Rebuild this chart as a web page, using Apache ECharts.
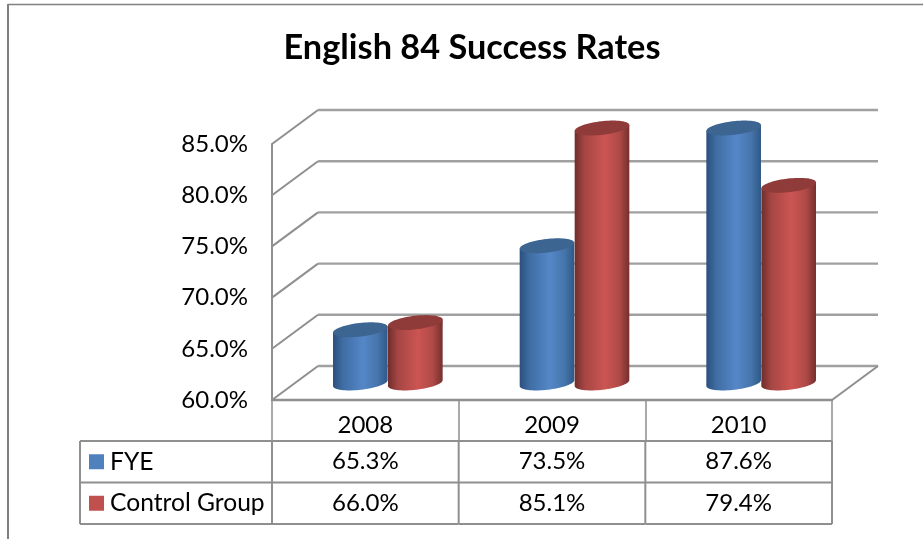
<!DOCTYPE html>
<html>
<head>
<meta charset="utf-8">
<style>html,body{margin:0;padding:0;background:#fff}#c{width:923px;height:539px}</style>
<script src="https://cdn.jsdelivr.net/npm/echarts@6/dist/echarts.min.js"></script>
</head>
<body>
<div id="c"></div>
<script>
const titleText = 'English 84 Success Rates';
const categories = ['2008', '2009', '2010'];
const fye = [65.3, 73.5, 87.6];
const control = [66.0, 85.1, 79.4];
const yTicks = [60, 65, 70, 75, 80, 85];
const seriesNames = ['FYE', 'Control Group'];
const yMin = 60, yMax = 85;

const FONT = 'Lato, "Open Sans", sans-serif';
const LINE = '#8f8f8f';
const DX = 46, DY = -34;      // depth of the 3D box
const RX = 27.5, RY = 6.8, TILT = 6.5 * Math.PI / 180;
const TICK_FS = 24;
const ROW_TOP = 41, ROW_H = 41.5;
const LEFT_X = 80;
const swatches = ['#4f81bd', '#c0504d'];

function ell(cx, cy, t) {
  const c = Math.cos(TILT), s = Math.sin(TILT);
  return [cx + RX * Math.cos(t) * c + RY * Math.sin(t) * s,
          cy - RX * Math.cos(t) * s + RY * Math.sin(t) * c];
}
function grad(stops) {
  return new echarts.graphic.LinearGradient(0, 0, 1, 0,
    stops.map(p => ({ offset: p[0], color: p[1] })));
}
const palettes = [
  { body: [[0, '#2b4f7c'], [0.18, '#3f6da3'], [0.55, '#5587c8'], [0.82, '#4675ab'], [1, '#2f5887']], top: '#3c6592' },
  { body: [[0, '#6f2d2b'], [0.18, '#a54644'], [0.55, '#cc5552'], [0.82, '#ae4a47'], [1, '#752f2d']], top: '#8f3b39' }
];

function cylinder(idx) {
  return function (params, api) {
    const cat = api.value(0), v = Math.min(api.value(1), yMax);
    const base = api.coord([cat, yMin]), top = api.coord([cat, v]);
    const cx = base[0] + DX / 2 - 0.5 + (idx === 0 ? -RX : RX);
    const by = base[1] + DY / 2, ty = top[1] + DY / 2 + 1;
    const body = [];
    body.push(ell(cx, ty, Math.PI));
    for (let i = 0; i <= 36; i++) body.push(ell(cx, by, Math.PI - i * Math.PI / 36));
    body.push(ell(cx, ty, 0));
    const cap = [];
    for (let i = 0; i < 72; i++) cap.push(ell(cx, ty, i * 2 * Math.PI / 72));
    return {
      type: 'group',
      children: [
        { type: 'polygon', shape: { points: body }, style: { fill: grad(palettes[idx].body) } },
        { type: 'polygon', shape: { points: cap }, style: { fill: palettes[idx].top } }
      ]
    };
  };
}

function wall(params, api) {
  const p = api.coord([0, api.value(0)]);
  const x0 = params.coordSys.x, x1 = x0 + params.coordSys.width;
  const y = p[1];
  const st = { stroke: LINE, lineWidth: 2, fill: 'none' };
  const kids = [
    { type: 'line', shape: { x1: x0, y1: y, x2: x0 + DX, y2: y + DY }, style: st },
    { type: 'line', shape: { x1: x0 + DX, y1: y + DY, x2: x1 + DX, y2: y + DY }, style: { stroke: '#a0a0a0', lineWidth: 2.4 } }
  ];
  if (api.value(0) === yMin) {
    kids.push({ type: 'line', shape: { x1: x1, y1: y, x2: x1 + DX, y2: y + DY }, style: st });
  }
  return { type: 'group', children: kids };
}

function cellText(x, y, text, align, size) {
  return { type: 'text', style: { x: x, y: y, text: text, fill: '#000', font: (size || TICK_FS) + 'px ' + FONT, align: align, verticalAlign: 'middle' } };
}
function hline(x1, x2, y) {
  return { type: 'line', shape: { x1: x1, y1: y, x2: x2, y2: y }, style: { stroke: LINE, lineWidth: 2 } };
}
function vline(x, y1, y2) {
  return { type: 'line', shape: { x1: x, y1: y1, x2: x, y2: y2 }, style: { stroke: LINE, lineWidth: 2 } };
}
function tableColumn(params, api) {
  const i = api.value(0);
  const c = api.coord([i, yMin]);
  const band = api.size([1, 0])[0];
  const top = c[1] + ROW_TOP;
  const values = [fye, control];
  const kids = [];
  values.forEach((arr, r) => {
    kids.push(cellText(c[0], top + ROW_H * (r + 0.5), arr[i].toFixed(1) + '%', 'center'));
    kids.push(hline(c[0] - band / 2, c[0] + band / 2, top + ROW_H * (r + 1)));
  });
  kids.push(hline(c[0] - band / 2, c[0] + band / 2, top));
  kids.push(vline(c[0] + band / 2, top, top + 2 * ROW_H));
  if (i === 0) {
    const x0 = c[0] - band / 2;
    kids.push(vline(x0, top, top + 2 * ROW_H));
    kids.push(vline(LEFT_X, top, top + 2 * ROW_H));
    kids.push(hline(LEFT_X, x0, top));
    seriesNames.forEach((n, r) => {
      const my = top + ROW_H * (r + 0.5);
      kids.push({ type: 'rect', shape: { x: LEFT_X + 9, y: my - 7.5, width: 15, height: 15 }, style: { fill: swatches[r] } });
      kids.push(cellText(LEFT_X + 30, my, n, 'left', 24.6));
      kids.push(hline(LEFT_X, x0, top + ROW_H * (r + 1)));
    });
  }
  return { type: 'group', children: kids };
}

const chart = echarts.init(document.getElementById('c'), null, { renderer: 'canvas' });
chart.setOption({
  animation: false,
  backgroundColor: '#fff',
  title: {
    text: titleText, left: 467, top: 26, textAlign: 'center',
    textStyle: { fontFamily: FONT, fontWeight: 'bold', fontSize: 34.3, color: '#000' }
  },
  graphic: [
    { type: 'line', shape: { x1: 8, y1: 4.5, x2: 923, y2: 4.5 }, style: { stroke: '#808080', lineWidth: 1.5 } },
    { type: 'line', shape: { x1: 8, y1: 4, x2: 8, y2: 539 }, style: { stroke: '#808080', lineWidth: 2 } }
  ],
  grid: { left: 272, right: 91, top: 144, bottom: 139 },
  xAxis: {
    type: 'category', data: categories,
    axisLine: { show: true, lineStyle: { color: LINE, width: 2.4 } },
    axisTick: { show: true, length: 41, lineStyle: { color: LINE, width: 1.5 } },
    axisLabel: { color: '#000', fontFamily: FONT, fontSize: TICK_FS, margin: 13 },
    splitLine: { show: false }
  },
  yAxis: {
    type: 'value', min: yMin, max: yMax, interval: 5,
    axisLine: { show: true, lineStyle: { color: LINE, width: 2 } },
    axisTick: { show: false },
    splitLine: { show: false },
    axisLabel: { color: '#000', fontFamily: FONT, fontSize: TICK_FS, margin: 24, padding: [3, 0, 0, 0], formatter: v => v.toFixed(1) + '%' }
  },
  series: [
    { type: 'custom', name: 'wall', coordinateSystem: 'cartesian2d', z: 1, silent: true, clip: false,
      data: yTicks.map(v => [v]), encode: { y: 0 }, renderItem: wall },
    { type: 'custom', name: seriesNames[0], coordinateSystem: 'cartesian2d', z: 3, clip: false,
      data: fye.map((v, i) => [i, v]), encode: { x: 0, y: 1 }, renderItem: cylinder(0) },
    { type: 'custom', name: seriesNames[1], coordinateSystem: 'cartesian2d', z: 4, clip: false,
      data: control.map((v, i) => [i, v]), encode: { x: 0, y: 1 }, renderItem: cylinder(1) },
    { type: 'custom', name: 'table', coordinateSystem: 'cartesian2d', z: 5, silent: true, clip: false,
      data: categories.map((c, i) => [i, yMin]), encode: { x: 0, y: 1 }, renderItem: tableColumn }
  ]
});
</script>
</body>
</html>
